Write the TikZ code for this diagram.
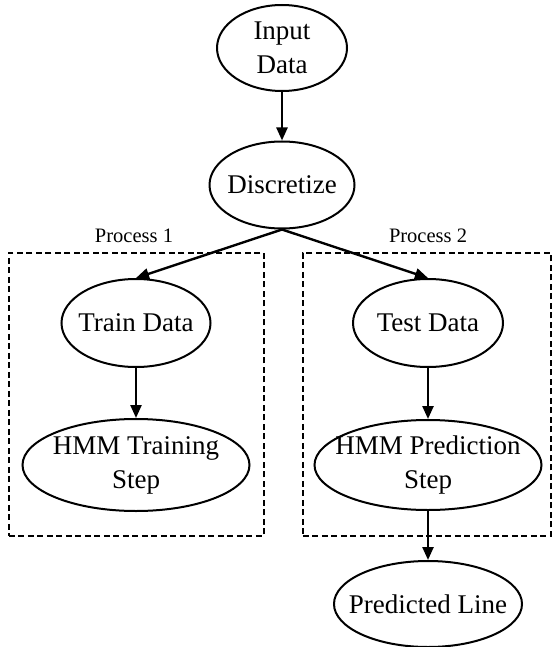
\documentclass[tikz,border=0pt]{standalone}
\usepackage{fontspec}
\setmainfont{Liberation Serif}
\usetikzlibrary{arrows.meta,shapes.geometric}
\begin{document}
\begin{tikzpicture}[x=1pt,y=-1pt,
  el/.style={ellipse,draw,line width=2pt,inner xsep=-30pt,inner ysep=-10pt,align=center,font=\fontsize{27}{34}\selectfont},
  arr/.style={line width=2.4pt,-{Triangle[length=13pt,width=11pt]}},
  grp/.style={draw,line width=1.6pt,dash pattern=on 6pt off 3.5pt},
  lbl/.style={font=\fontsize{20.5}{24}\selectfont,inner sep=0pt}]
\useasboundingbox (0,0) rectangle (553,647);
\node[grp,minimum width=255pt,minimum height=283pt,anchor=north west,inner sep=0pt] (box1) at (8,252) {};
\node[grp,minimum width=248pt,minimum height=283pt,anchor=north west,inner sep=0pt] (box2) at (302,252) {};
\node[lbl] (p1) at (134,236) {Process 1};
\node[lbl] (p2) at (428,236) {Process 2};
\node[el,minimum width=130pt,minimum height=86pt] (in) at (282,48) {Input\\Data};
\node[el,minimum width=145pt,minimum height=87pt] (disc) at (282,185) {Discretize};
\node[el,minimum width=149pt,minimum height=88pt] (train) at (136,323) {Train Data};
\node[el,minimum width=150pt,minimum height=88pt] (test) at (428,323) {Test Data};
\node[el,minimum width=227pt,minimum height=92pt] (hmmt) at (136,465) {HMM Training\\Step};
\node[el,minimum width=227pt,minimum height=90pt] (hmmp) at (428,465) {HMM Prediction\\Step};
\node[el,minimum width=188pt,minimum height=86pt] (pred) at (428,604) {Predicted Line};
\draw[arr] (in.south) -- (disc.north);
\draw[arr] (disc.south) -- (train.north);
\draw[arr] (disc.south) -- (test.north);
\draw[arr] (train.south) -- (hmmt.north);
\draw[arr] (test.south) -- (hmmp.north);
\draw[arr] (hmmp.south) -- (pred.north);
\end{tikzpicture}
\end{document}
